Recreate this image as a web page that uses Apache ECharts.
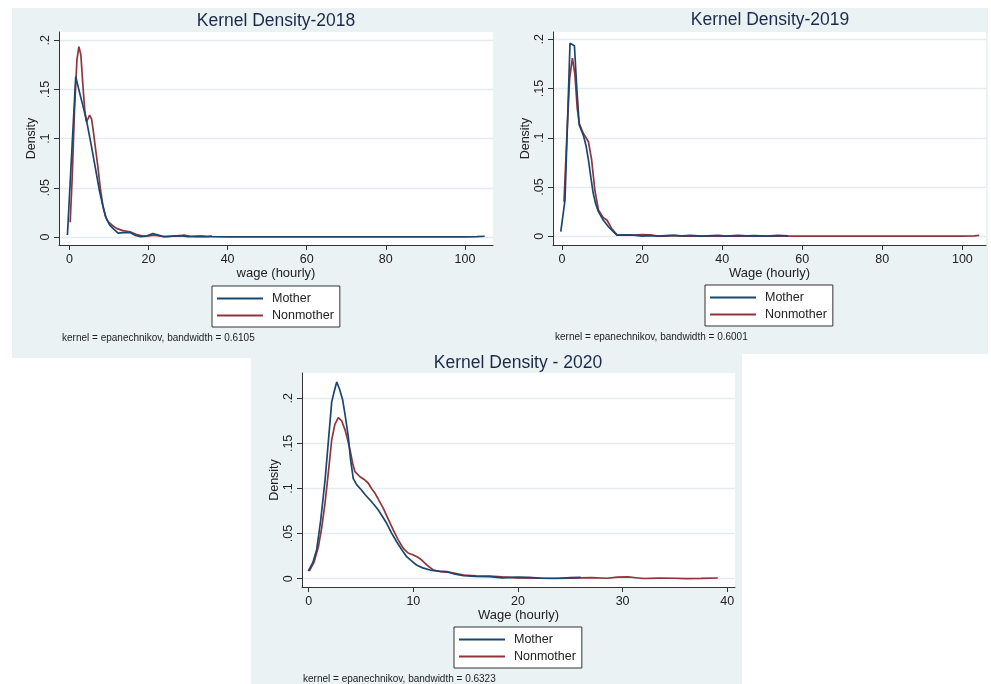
<!DOCTYPE html>
<html><head><meta charset="utf-8">
<script src="https://cdn.jsdelivr.net/npm/echarts@6/dist/echarts.min.js"></script>
<style>html,body{margin:0;padding:0;background:#fff}#c{width:991px;height:684px}</style>
</head><body><div id="c"></div>
<script>
const seriesNames = ['Mother', 'Nonmother'];
const titles = ['Kernel Density-2018', 'Kernel Density-2019', 'Kernel Density - 2020'];
const xNames = ['wage (hourly)', 'Wage (hourly)', 'Wage (hourly)'];
const yName = 'Density';
const notes = ['kernel = epanechnikov, bandwidth = 0.6105',
               'kernel = epanechnikov, bandwidth = 0.6001',
               'kernel = epanechnikov, bandwidth = 0.6323'];
const xTicks2018 = [0, 20, 40, 60, 80, 100];
const xTicks2019 = [0, 20, 40, 60, 80, 100];
const xTicks2020 = [0, 10, 20, 30, 40];
const yTicks = [0, 0.05, 0.1, 0.15, 0.2];
const yTickLabels = ['0', '.05', '.1', '.15', '.2'];

// [wage, density]
const mother2018 = [[-0.5,0.002],[1.6,0.163],[2.5,0.148],[3.5,0.132],[4.3,0.119],[5.5,0.094],[6.8,0.065],[7.6,0.047],[8.5,0.031],[9.3,0.019],[10.2,0.012],[11.2,0.008],[12.3,0.004],[13.5,0.0045],[15.3,0.0045],[16.5,0.002],[17.8,0.0005],[19.5,0.001],[21.1,0.0035],[22.5,0.002],[23.7,0.0005],[26,0.001],[28,0.0015],[30,0.0005],[33,0.001],[36,0.0003],[40,0.0002],[50,0.0001],[60,0.0001],[70,0.0001],[80,0.0001],[90,0.0001],[100,0.0001],[103,0.0005],[105,0.0008]];
const nonmother2018 = [[0.2,0.015],[0.7,0.06],[1.3,0.13],[1.9,0.18],[2.4,0.1935],[2.9,0.185],[3.4,0.155],[3.9,0.128],[4.3,0.117],[4.7,0.12],[5.1,0.124],[5.6,0.12],[6.0,0.109],[6.6,0.09],[7.2,0.0715],[7.8,0.05],[8.5,0.031],[9.1,0.021],[9.8,0.0156],[10.8,0.012],[11.9,0.0088],[13.5,0.0065],[15.3,0.0054],[17,0.0025],[18.6,0.001],[20,0.0012],[21.5,0.002],[23,0.001],[24.5,0.0003],[26,0.001],[28,0.0012],[29,0.002],[30.5,0.0008],[32,0.0004],[33.5,0.0006],[35,0.0004],[36,0.0012]];
const mother2019 = [[-0.3,0.0047],[0.75,0.037],[2.0,0.196],[3.1,0.1935],[3.7,0.15],[4.3,0.113],[5.3,0.103],[6.0,0.092],[6.6,0.0775],[7.2,0.06],[7.8,0.0437],[8.4,0.033],[9.1,0.025],[10.3,0.0165],[11.6,0.0097],[12.5,0.006],[13.7,0.0013],[15,0.0012],[17,0.0015],[18.5,0.001],[20,0.0002],[22,0.0008],[24,0.0003],[27,0.001],[30,0.0004],[32,0.0009],[35,0.0003],[39,0.0009],[41,0.0003],[44,0.0009],[46,0.0004],[48,0.0008],[51,0.0003],[54,0.0009],[56.5,0.0005]];
const nonmother2019 = [[0.5,0.035],[1.2,0.1],[1.9,0.16],[2.6,0.181],[3.2,0.165],[3.8,0.13],[4.3,0.1147],[5.3,0.1046],[6.0,0.1],[6.6,0.096],[7.4,0.0775],[8.2,0.047],[9.1,0.0267],[10.3,0.019],[11.2,0.0166],[12.4,0.008],[13.8,0.0013],[16,0.0015],[18,0.0012],[20,0.0018],[22,0.0015],[24,0.0003],[26,0.0003],[28,0.0009],[30,0.0003],[35,0.0003],[40,0.0003],[50,0.0002],[60,0.0002],[70,0.0002],[80,0.0002],[90,0.0002],[100,0.0002],[103,0.0005],[104.2,0.0009]];
const mother2020 = [[-0.04,0.0085],[0.4,0.018],[0.76,0.032],[1.15,0.065],[1.56,0.109],[1.9,0.155],[2.2,0.196],[2.45,0.208],[2.68,0.218],[2.95,0.21],[3.25,0.198],[3.5,0.18],[3.79,0.157],[4.0,0.132],[4.26,0.111],[4.6,0.104],[5.06,0.098],[5.4,0.093],[5.86,0.0872],[6.25,0.082],[6.65,0.0761],[7.05,0.069],[7.45,0.0614],[7.9,0.051],[8.4,0.041],[8.9,0.032],[9.36,0.0244],[9.8,0.02],[10.3,0.0152],[10.9,0.012],[11.6,0.0096],[12.4,0.0085],[13.2,0.0078],[14.0,0.005],[14.8,0.0033],[16,0.0026],[17.3,0.0022],[18.5,0.001],[20,0.0018],[21,0.0015],[22.5,0.0005],[24,0.0005],[25,0.0013],[26,0.0015]];
const nonmother2020 = [[0.06,0.0085],[0.5,0.018],[0.92,0.035],[1.25,0.057],[1.56,0.0836],[1.9,0.12],[2.2,0.154],[2.5,0.171],[2.83,0.1785],[3.15,0.175],[3.47,0.165],[3.7,0.155],[3.95,0.1427],[4.2,0.128],[4.42,0.1186],[4.9,0.113],[5.3,0.11],[5.7,0.1058],[6.0,0.1],[6.34,0.0947],[6.7,0.087],[7.13,0.078],[7.6,0.066],[8.08,0.054],[8.55,0.043],[9.04,0.0337],[9.5,0.0285],[10.0,0.0263],[10.4,0.024],[10.8,0.0207],[11.3,0.015],[11.9,0.0096],[12.6,0.0078],[13.5,0.0071],[14.1,0.0058],[14.8,0.0041],[16,0.0032],[17.3,0.003],[18.5,0.002],[20,0.001],[22,0.0005],[23.5,0.0002],[25,0.0006],[27,0.0012],[28.5,0.0005],[29.5,0.0018],[30.5,0.002],[31.5,0.0008],[32,0.0002],[33.5,0.0006],[35,0.0005],[36,0.0001],[37.5,0.0003],[39.1,0.0008]];

const FONT = '"Liberation Sans", Arial, Helvetica, sans-serif';
const BG = '#eaf2f3';
const MCOL = '#1a476f', NCOL = '#90353b';
const TXT = '#222';

const panels = [
  {grid:{left:59, top:32, width:434, height:213}, xMin:-2.63, xMax:107.1, yMin:-0.0081, yMax:0.2084, xTicks:xTicks2018, data:[mother2018, nonmother2018], titleX:276, titleY:12, legend:{left:212, top:286}, note:{x:62, y:338}},
  {grid:{left:553, top:32, width:433, height:213}, xMin:-2.25, xMax:105.9, yMin:-0.0088, yMax:0.2074, xTicks:xTicks2019, data:[mother2019, nonmother2019], titleX:770, titleY:11, legend:{left:705, top:285}, note:{x:555, y:337}},
  {grid:{left:302, top:373, width:433, height:214}, xMin:-0.64, xMax:40.74, yMin:-0.0092, yMax:0.228, xTicks:xTicks2020, data:[mother2020, nonmother2020], titleX:518, titleY:354, legend:{left:454, top:627}, note:{x:303, y:679}}
];

function yFmt(v){
  let best = 0;
  for (let i = 0; i < yTicks.length; i++) if (Math.abs(yTicks[i]-v) < Math.abs(yTicks[best]-v)) best = i;
  return yTickLabels[best];
}

const option = {
  animation: false,
  backgroundColor: '#fff',
  graphic: { elements: [
    {type:'rect', shape:{x:12, y:8, width:488, height:350}, style:{fill:BG}, z:-100, silent:true},
    {type:'rect', shape:{x:500, y:8, width:488, height:346}, style:{fill:BG}, z:-100, silent:true},
    {type:'rect', shape:{x:251, y:350, width:491, height:334}, style:{fill:BG}, z:-100, silent:true}
  ].concat(panels.map((p, i) => ({
    type:'text', x:p.note.x, y:p.note.y, silent:true,
    style:{text:notes[i], fill:'#222', font:'10px ' + FONT, textVerticalAlign:'middle'}
  }))) },
  title: panels.map((p, i) => ({
    text: titles[i], left: p.titleX, top: p.titleY, textAlign: 'center', padding: 0,
    textStyle: {fontSize: 17.5, fontWeight: 'normal', color: '#1b2a4a', fontFamily: FONT}
  })),
  legend: panels.map((p, i) => ({
    data: seriesNames, orient: 'vertical', left: p.legend.left, top: p.legend.top,
    padding: [5, 6, 4, 5], itemGap: 2, itemWidth: 46, itemHeight: 1.8, icon: 'rect',
    backgroundColor: '#fff', borderColor: '#333', borderWidth: 1, borderRadius: 0,
    selectedMode: false,
    textStyle: {fontSize: 12.5, lineHeight: 15, color: TXT, fontFamily: FONT, padding: [0, 0, 0, 4]}
  })),
  grid: panels.map(p => Object.assign({show:true, backgroundColor:'#fff', borderWidth:0, containLabel:false}, p.grid)),
  xAxis: panels.map((p, i) => ({
    type: 'value', gridIndex: i, min: p.xMin, max: p.xMax,
    name: xNames[i], nameLocation: 'middle', nameGap: 21,
    nameTextStyle: {fontSize: 13, color: TXT, fontFamily: FONT},
    axisLine: {show: true, onZero: false, lineStyle: {color: '#333', width: 1}},
    axisTick: {show: true, length: 5, lineStyle: {color: '#333'}, customValues: p.xTicks},
    axisLabel: {fontSize: 12.5, color: TXT, fontFamily: FONT, margin: 8, customValues: p.xTicks, showMinLabel: true, showMaxLabel: true},
    splitLine: {show: false}
  })),
  yAxis: panels.map((p, i) => ({
    type: 'value', gridIndex: i, min: p.yMin, max: p.yMax,
    name: yName, nameLocation: 'middle', nameGap: 21, nameRotate: 90,
    nameTextStyle: {fontSize: 12.5, color: TXT, fontFamily: FONT},
    axisLine: {show: true, onZero: false, lineStyle: {color: '#333', width: 1}},
    axisTick: {show: true, length: 5, lineStyle: {color: '#333'}, customValues: yTicks},
    axisLabel: {fontSize: 12.5, color: TXT, fontFamily: FONT, margin: 7, rotate: 90, customValues: yTicks, formatter: yFmt},
    splitLine: {show: true, lineStyle: {color: '#e3ecee', width: 1.3}}
  })),
  series: panels.flatMap((p, i) => [
    {name: seriesNames[0], type: 'line', xAxisIndex: i, yAxisIndex: i, data: p.data[0], symbol: 'none', smooth: false, lineStyle: {color: MCOL, width: 1.7}, itemStyle: {color: MCOL}, z: 3},
    {name: seriesNames[1], type: 'line', xAxisIndex: i, yAxisIndex: i, data: p.data[1], symbol: 'none', smooth: false, lineStyle: {color: NCOL, width: 1.7}, itemStyle: {color: NCOL}, z: 2}
  ])
};
const chart = echarts.init(document.getElementById('c'), null, {renderer: 'canvas'});
chart.setOption(option);
</script></body></html>
